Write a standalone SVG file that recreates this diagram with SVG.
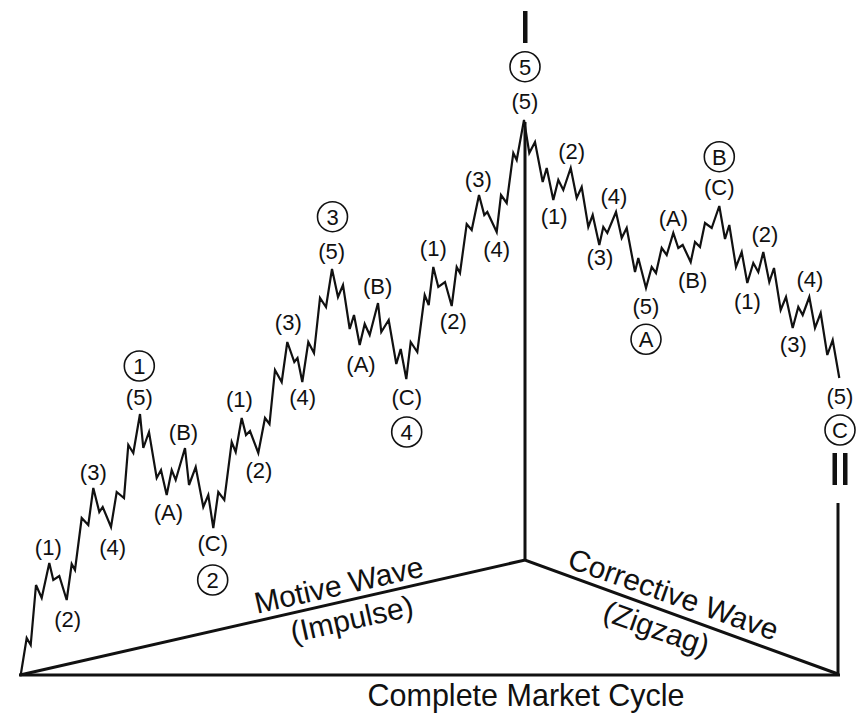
<svg xmlns="http://www.w3.org/2000/svg" width="866" height="714" viewBox="0 0 866 714">
<style>
.wave{fill:none;stroke:#111;stroke-width:2.2;stroke-linejoin:miter;stroke-miterlimit:4}
.axis{fill:none;stroke:#111;stroke-width:3}
.lbl{font-family:"Liberation Sans",Arial,sans-serif;font-size:22px;fill:#111;text-anchor:middle}
.big{font-family:"Liberation Sans",Arial,sans-serif;font-size:30px;fill:#111;text-anchor:middle}
.circ{fill:none;stroke:#111;stroke-width:1.6}
.bar{fill:#111}
</style>
<rect width="866" height="714" fill="#fff"/>
<g id="connectors">
<polyline class="wave" points="20.7,675 26.7,638 30.7,645 36,585 41.7,598 49.3,563 53.3,580 59.3,576 66.7,600 71.7,564 75,570 81.7,518 88.3,525 93.3,488 99.3,512 102.7,507 111,527 116.7,492 124,498 128.3,445 133.3,453 140,414 143.3,448 149,432 156.7,478 161,470 166.7,495 171.7,470 175.7,480 185,448 189,485 195.7,467 203.3,507 208.3,495 213.3,528 218.3,492 224.3,500 231.7,442 235.7,452 241.7,418 246,435 250,431 258.3,453 265,418 269.5,424 275,370 281.7,382 287.3,342 294.3,362 297.5,358 302.3,382 308.3,342 314,353 320,298 326,307 332,269 338,297 343,285 349.7,329 354,315 359.7,345 364.7,324 369.7,335 378,303 381.3,332 388.7,320 396.3,364 400.7,349 406.3,379 410.7,342 417.3,352 424.7,295 428.7,305 433.3,267 438.3,287 445,282 451.7,306 456.7,267 460,273 466.7,224 471.7,230 479,195 484.3,215 487.3,212 496.7,232 501,195 506.7,203 513.3,153 516.7,160 524,120 529.3,153 535,142 542.7,182 546.7,168 553.3,200 558.3,180 563.3,190 570.7,168 576.7,198 581.7,187 588.3,227 592.7,215 599.3,245 603.3,227 607.3,233 616,212 621.7,238 626.7,228 635,272 638.3,258 646,288 651.7,267 656,273 661.7,248 666.7,255 673.3,233 678.3,248 682.7,245 690.7,262 695,242 700,247 705,223 711.7,228 719.3,206 725,239 729.3,225 736,267 741.7,252 747.3,283 753.3,263 758.3,272 763.3,252 769.3,282 774,268 780.7,310 786,297 792.7,328 798.3,307 802.7,315 809.3,297 815,328 820.7,313 827.3,355 832.7,340 839.3,378"/>
<line class="axis" x1="525" y1="122" x2="525" y2="561"/>
<polyline class="axis" points="20,675 525,560 838,674"/>
<line class="axis" x1="19" y1="675" x2="840" y2="675"/>
<line class="axis" x1="838" y1="503" x2="838" y2="675"/>
</g>
<g id="markers">
<rect class="bar" x="523" y="11" width="4.5" height="32"/>
<rect class="bar" x="832.5" y="453" width="4.5" height="32"/>
<rect class="bar" x="843" y="453" width="4.5" height="32"/>
</g>
<g id="node-wave1">
<text class="lbl" x="48.3" y="555">(1)</text>
<text class="lbl" x="67.7" y="627">(2)</text>
<text class="lbl" x="93.3" y="480">(3)</text>
<text class="lbl" x="112.7" y="555">(4)</text>
<text class="lbl" x="139.3" y="405">(5)</text>
<circle class="circ" cx="139.3" cy="366" r="15"/>
<text class="lbl" x="139.3" y="374">1</text>
</g>
<g id="node-wave2">
<text class="lbl" x="168.3" y="520">(A)</text>
<text class="lbl" x="183.5" y="440">(B)</text>
<text class="lbl" x="212.7" y="551">(C)</text>
<circle class="circ" cx="212.7" cy="580" r="15"/>
<text class="lbl" x="212.7" y="588">2</text>
</g>
<g id="node-wave3">
<text class="lbl" x="239.5" y="406.5">(1)</text>
<text class="lbl" x="259" y="478">(2)</text>
<text class="lbl" x="288.3" y="330">(3)</text>
<text class="lbl" x="302.7" y="405">(4)</text>
<text class="lbl" x="331.7" y="258.5">(5)</text>
<circle class="circ" cx="332.5" cy="216.7" r="15"/>
<text class="lbl" x="332.5" y="224.7">3</text>
</g>
<g id="node-wave4">
<text class="lbl" x="361" y="372">(A)</text>
<text class="lbl" x="377.7" y="293.5">(B)</text>
<text class="lbl" x="406.7" y="405">(C)</text>
<circle class="circ" cx="406.7" cy="432" r="15"/>
<text class="lbl" x="406.7" y="440">4</text>
</g>
<g id="node-wave5">
<text class="lbl" x="433.3" y="256">(1)</text>
<text class="lbl" x="453.3" y="329">(2)</text>
<text class="lbl" x="478.3" y="187">(3)</text>
<text class="lbl" x="496.7" y="257">(4)</text>
<text class="lbl" x="525" y="108.5">(5)</text>
<circle class="circ" cx="525" cy="66.7" r="15"/>
<text class="lbl" x="525" y="74.7">5</text>
</g>
<g id="node-waveA">
<text class="lbl" x="554.2" y="223.5">(1)</text>
<text class="lbl" x="571.7" y="158.5">(2)</text>
<text class="lbl" x="600" y="265">(3)</text>
<text class="lbl" x="614" y="204">(4)</text>
<text class="lbl" x="646" y="313.5">(5)</text>
<circle class="circ" cx="646" cy="339.3" r="15"/>
<text class="lbl" x="646" y="347.3">A</text>
</g>
<g id="node-waveB">
<text class="lbl" x="673.3" y="226">(A)</text>
<text class="lbl" x="692.7" y="287.5">(B)</text>
<text class="lbl" x="719.3" y="195">(C)</text>
<circle class="circ" cx="719.3" cy="156.7" r="15"/>
<text class="lbl" x="719.3" y="164.7">B</text>
</g>
<g id="node-waveC">
<text class="lbl" x="747.5" y="308.5">(1)</text>
<text class="lbl" x="765" y="242">(2)</text>
<text class="lbl" x="793.3" y="352">(3)</text>
<text class="lbl" x="810" y="287">(4)</text>
<text class="lbl" x="840" y="403.5">(5)</text>
<circle class="circ" cx="840" cy="430" r="15"/>
<text class="lbl" x="840" y="438">C</text>
</g>
<g id="node-titles">
<text class="big" transform="translate(341,595) rotate(-12.6)">Motive Wave</text>
<text class="big" transform="translate(354,629) rotate(-12.6)">(Impulse)</text>
<text class="big" transform="translate(670,604) rotate(19.5)">Corrective Wave</text>
<text class="big" transform="translate(653,638) rotate(19.5)">(Zigzag)</text>
<text class="big" x="526" y="706" style="font-size:30.5px">Complete Market Cycle</text>
</g>
</svg>
